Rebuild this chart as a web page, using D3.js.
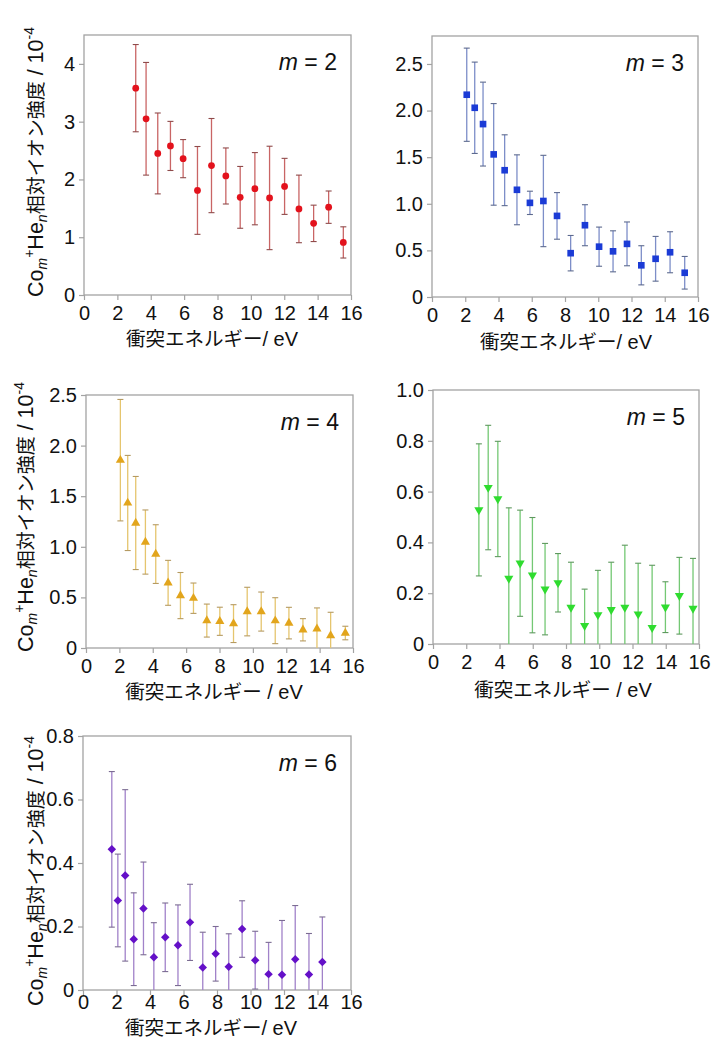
<!DOCTYPE html>
<html><head><meta charset="utf-8">
<script src="https://cdn.jsdelivr.net/npm/d3@7"></script>
<style>
body{margin:0;background:#fff;}
svg{display:block;}
text{font-family:"Liberation Sans",Arial,sans-serif;fill:#111;}
.cjk{font-family:"Noto Sans CJK JP",sans-serif;}
</style></head><body>
<svg id="chart" width="712" height="1039"></svg>
<script>
// ---------- data ----------
const xTickValues = [0, 2, 4, 6, 8, 10, 12, 14, 16];

const m2Energy = [3.1, 3.72, 4.42, 5.18, 5.94, 6.8, 7.64, 8.5, 9.36, 10.24, 11.12, 12.02, 12.88, 13.76, 14.66, 15.54];
const m2Value  = [3.58, 3.05, 2.45, 2.58, 2.36, 1.81, 2.24, 2.06, 1.69, 1.84, 1.68, 1.88, 1.49, 1.24, 1.52, 0.91];
const m2Error  = [0.755, 0.975, 0.70, 0.425, 0.33, 0.76, 0.815, 0.485, 0.535, 0.625, 0.895, 0.485, 0.585, 0.315, 0.28, 0.27];
const m2YTicks = [0, 1, 2, 3, 4];

const m3Energy = [2.09, 2.57, 3.07, 3.71, 4.37, 5.11, 5.89, 6.70, 7.52, 8.34, 9.2, 10.05, 10.89, 11.73, 12.59, 13.45, 14.32, 15.2];
const m3Value  = [2.17, 2.03, 1.855, 1.53, 1.36, 1.15, 1.01, 1.03, 0.87, 0.47, 0.77, 0.54, 0.49, 0.57, 0.34, 0.41, 0.48, 0.26];
const m3Error  = [0.50, 0.49, 0.45, 0.545, 0.38, 0.375, 0.125, 0.49, 0.25, 0.19, 0.22, 0.21, 0.22, 0.235, 0.21, 0.24, 0.22, 0.175];
const m3YTicks = [0, 0.5, 1.0, 1.5, 2.0, 2.5];

const m4Energy = [2.06, 2.5, 2.98, 3.56, 4.18, 4.92, 5.66, 6.44, 7.24, 8.02, 8.84, 9.66, 10.5, 11.34, 12.16, 13.0, 13.84, 14.66, 15.54];
const m4Value  = [1.856, 1.433, 1.235, 1.047, 0.928, 0.644, 0.518, 0.492, 0.271, 0.264, 0.241, 0.36, 0.36, 0.27, 0.246, 0.18, 0.19, 0.123, 0.148];
const m4Error  = [0.60, 0.47, 0.46, 0.317, 0.29, 0.222, 0.228, 0.15, 0.163, 0.139, 0.187, 0.24, 0.193, 0.227, 0.156, 0.11, 0.206, 0.23, 0.067];
const m4YTicks = [0, 0.5, 1.0, 1.5, 2.0, 2.5];

const m5Energy = [2.76, 3.32, 3.9, 4.56, 5.24, 5.98, 6.74, 7.52, 8.3, 9.12, 9.92, 10.72, 11.54, 12.34, 13.18, 13.98, 14.82, 15.64];
const m5Value  = [0.528, 0.616, 0.571, 0.258, 0.318, 0.271, 0.216, 0.241, 0.144, 0.072, 0.115, 0.135, 0.144, 0.118, 0.064, 0.145, 0.19, 0.14];
const m5Error  = [0.26, 0.245, 0.227, 0.278, 0.209, 0.227, 0.18, 0.115, 0.178, 0.144, 0.175, 0.187, 0.245, 0.2, 0.246, 0.1, 0.151, 0.197];
const m5YTicks = [0, 0.2, 0.4, 0.6, 0.8, 1.0];

const m6Energy = [1.72, 2.08, 2.52, 3.03, 3.61, 4.23, 4.91, 5.67, 6.39, 7.15, 7.92, 8.7, 9.5, 10.28, 11.08, 11.88, 12.67, 13.49, 14.29];
const m6Value  = [0.443, 0.282, 0.361, 0.16, 0.257, 0.103, 0.166, 0.141, 0.213, 0.071, 0.114, 0.073, 0.192, 0.094, 0.05, 0.048, 0.097, 0.049, 0.088];
const m6Error  = [0.245, 0.146, 0.27, 0.146, 0.146, 0.109, 0.108, 0.127, 0.12, 0.111, 0.086, 0.104, 0.089, 0.091, 0.1, 0.171, 0.169, 0.129, 0.142];
const m6YTicks = [0, 0.2, 0.4, 0.6, 0.8];

const panelLabels = ["2", "3", "4", "5", "6"];
const xTitleCJK = "衝突エネルギー";
const xTitleUnit = ["/ eV", "/ eV", " / eV", " / eV", "/ eV"];

// ---------- layout / style ----------
const panels = [
  {m: panelLabels[0], e: m2Energy, v: m2Value, err: m2Error, yt: m2YTicks, ymax: 4.5,
   L: 84, R: 351, T: 35, B: 295, sym: "circle", color: "#e3121c", bar: "#c96565", cap: "#8e4b4b",
   yTitle: {x: 43, y: 162}, xTitle: {x: 212, y: 346}, unit: xTitleUnit[0], intFmt: true, pad: 6},
  {m: panelLabels[1], e: m3Energy, v: m3Value, err: m3Error, yt: m3YTicks, ymax: 2.8,
   L: 432, R: 698, T: 36, B: 297, sym: "square", color: "#1b3bd6", bar: "#7d8ec8", cap: "#5d6a8e",
   yTitle: null, xTitle: {x: 566, y: 349}, unit: xTitleUnit[1], pad: 6},
  {m: panelLabels[2], e: m4Energy, v: m4Value, err: m4Error, yt: m4YTicks, ymax: 2.5,
   L: 86, R: 353, T: 395, B: 648, sym: "triangle", color: "#e2a51c", bar: "#e5c56e", cap: "#b59a62",
   yTitle: {x: 33, y: 517}, xTitle: {x: 214, y: 699}, unit: xTitleUnit[2], pad: 6},
  {m: panelLabels[3], e: m5Energy, v: m5Value, err: m5Error, yt: m5YTicks, ymax: 1.0,
   L: 433, R: 699, T: 390, B: 644, sym: "triangleDown", color: "#2fdc2f", bar: "#74c874", cap: "#5e985e",
   yTitle: null, xTitle: {x: 563, y: 697}, unit: xTitleUnit[3], pad: 6},
  {m: panelLabels[4], e: m6Energy, v: m6Value, err: m6Error, yt: m6YTicks, ymax: 0.8,
   L: 83, R: 351, T: 736, B: 990, sym: "diamond", color: "#6410c8", bar: "#a182c9", cap: "#7b6c92",
   yTitle: {x: 43, y: 871}, xTitle: {x: 211, y: 1034.5}, unit: xTitleUnit[4], pad: 0}
];

const svg = d3.select("#chart");
const frameColor = "#a3a3a3";

panels.forEach((p, i) => {
  const x = d3.scaleLinear().domain([0, 16]).range([p.L, p.R]);
  const y = d3.scaleLinear().domain([0, p.ymax]).range([p.B, p.T]);
  const g = svg.append("g");

  const clipId = "clip" + i;
  svg.append("clipPath").attr("id", clipId).append("rect")
    .attr("x", p.L).attr("y", p.T).attr("width", p.R - p.L).attr("height", p.B - p.T);

  // axes
  const fmt = p.intFmt ? d3.format("d") : (d => d === 0 ? "0" : d3.format(".1f")(d));
  const xa = g.append("g").attr("transform", `translate(0,${p.B})`)
    .call(d3.axisBottom(x).tickValues(xTickValues).tickSize(5).tickPadding(p.pad));
  const ya = g.append("g").attr("transform", `translate(${p.L},0)`)
    .call(d3.axisLeft(y).tickValues(p.yt).tickFormat(fmt).tickSize(5).tickPadding(4));
  [xa, ya].forEach(a => {
    a.select(".domain").remove();
    a.selectAll(".tick line").attr("stroke", frameColor).attr("stroke-width", 1.2);
    a.selectAll(".tick text").attr("font-size", 20).attr("fill", "#111")
      .attr("font-family", '"Liberation Sans", Arial, sans-serif');
  });

  // frame
  g.append("rect").attr("x", p.L).attr("y", p.T).attr("width", p.R - p.L).attr("height", p.B - p.T)
    .attr("fill", "none").attr("stroke", frameColor).attr("stroke-width", 1.3);

  // data
  const data = p.e.map((e, k) => ({e, v: p.v[k], s: p.err[k]}));
  const eg = g.append("g").attr("clip-path", `url(#${clipId})`);
  eg.selectAll("line.bar").data(data).join("line").attr("class", "bar")
    .attr("x1", d => x(d.e)).attr("x2", d => x(d.e))
    .attr("y1", d => y(d.v + d.s)).attr("y2", d => y(d.v - d.s))
    .attr("stroke", p.bar).attr("stroke-width", 1.3);
  ["top", "bot"].forEach(w => {
    eg.selectAll("line.cap" + w).data(data).join("line").attr("class", "cap" + w)
      .attr("x1", d => x(d.e) - 3).attr("x2", d => x(d.e) + 3)
      .attr("y1", d => y(w === "top" ? d.v + d.s : d.v - d.s))
      .attr("y2", d => y(w === "top" ? d.v + d.s : d.v - d.s))
      .attr("stroke", p.cap).attr("stroke-width", 1.1);
  });

  const symMap = {
    circle: {t: d3.symbolCircle, size: 36, rot: 0},
    square: {t: d3.symbolSquare, size: 44, rot: 0},
    triangle: {t: d3.symbolTriangle, size: 36, rot: 0},
    triangleDown: {t: d3.symbolTriangle, size: 36, rot: 180},
    diamond: {t: d3.symbolSquare, size: 36, rot: 45}
  };
  const sm = symMap[p.sym];
  const sym = d3.symbol().type(sm.t).size(sm.size);
  g.append("g").selectAll("path").data(data).join("path")
    .attr("d", sym)
    .attr("transform", d => `translate(${x(d.e)},${y(d.v)}) rotate(${sm.rot})`)
    .attr("fill", p.color);

  // m label
  const ml = g.append("text").attr("x", p.R - 14).attr("y", p.T + 35)
    .attr("text-anchor", "end").attr("font-size", 23);
  ml.append("tspan").attr("font-style", "italic").text("m");
  ml.append("tspan").text(" = " + p.m);

  // x title
  const xtEl = g.append("text").attr("x", p.xTitle.x).attr("y", p.xTitle.y)
    .attr("text-anchor", "middle").attr("font-size", 20).style("white-space", "pre");
  xtEl.append("tspan").attr("class", "cjk").attr("font-size", 19.5).text(xTitleCJK);
  xtEl.append("tspan").text(p.unit);

  // y title
  if (p.yTitle) {
    const yt = g.append("text")
      .attr("transform", `translate(${p.yTitle.x},${p.yTitle.y}) rotate(-90)`)
      .attr("text-anchor", "middle").attr("font-size", 21.5);
    yt.append("tspan").text("Co");
    yt.append("tspan").attr("font-size", 14).attr("font-style", "italic").attr("dy", 4).text("m");
    yt.append("tspan").attr("font-size", 14).attr("dy", -13).text("+");
    yt.append("tspan").attr("dy", 9).text("He");
    yt.append("tspan").attr("font-size", 14).attr("font-style", "italic").attr("dy", 4).text("n");
    yt.append("tspan").attr("class", "cjk").attr("font-size", 19).attr("dy", -4).text("相対イオン強度");
    yt.append("tspan").text(" / 10");
    yt.append("tspan").attr("font-size", 14).attr("dy", -9).text("-4");
  }
});
</script>
</body></html>
